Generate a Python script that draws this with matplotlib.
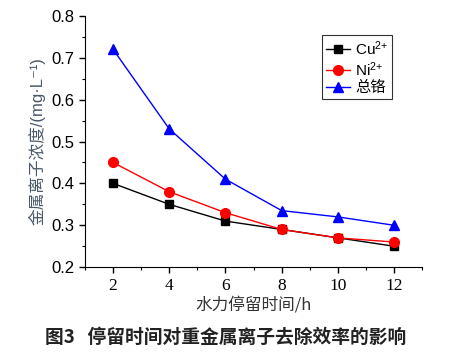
import matplotlib.pyplot as plt
from matplotlib.ticker import MultipleLocator

hrt = [2, 4, 6, 8, 10, 12]
cu = [0.40, 0.35, 0.31, 0.29, 0.27, 0.25]
ni = [0.45, 0.38, 0.33, 0.29, 0.27, 0.26]
cr_total = [0.72, 0.53, 0.41, 0.335, 0.32, 0.30]

plt.rcParams['font.family'] = ['Liberation Sans', 'Noto Sans CJK SC', 'DejaVu Sans']
plt.rcParams['mathtext.fontset'] = 'custom'
plt.rcParams['mathtext.rm'] = 'Liberation Sans'
plt.rcParams['mathtext.it'] = 'Liberation Sans:italic'
plt.rcParams['mathtext.bf'] = 'Liberation Sans:bold'

fig = plt.figure(figsize=(4.52, 3.52), dpi=100)
ax = fig.add_axes([0.188, 0.241, 0.746, 0.714])

ax.plot(hrt, cu, color='black', marker='s', markersize=6, lw=1, label=r'Cu$^{2{+}}$')
ax.plot(hrt, ni, color='red', marker='o', markersize=7, lw=1, label=r'Ni$^{2{+}}$')
ax.plot(hrt, cr_total, color='blue', marker='^', markersize=7, lw=1, label='总铬')

ax.set_xlim(1, 13)
ax.set_ylim(0.2, 0.8)
ax.xaxis.set_major_locator(MultipleLocator(2))
ax.xaxis.set_minor_locator(MultipleLocator(1))
ax.yaxis.set_major_locator(MultipleLocator(0.1))
ax.yaxis.set_minor_locator(MultipleLocator(0.05))
ax.spines['top'].set_visible(False)
ax.spines['right'].set_visible(False)
ax.tick_params(which='major', length=4, width=1, labelsize=12)
ax.tick_params(which='minor', length=2.5, width=0.8)
ax.set_yticklabels([f'{v:.1f}' for v in ax.get_yticks()])
for lbl in ax.get_xticklabels():
    lbl.set_family(['Liberation Serif'])
    lbl.set_fontsize(12.5)

ax.set_ylabel('金属离子浓度/(mg·L⁻¹)', fontsize=12, color='#4a5868',
              family=['Liberation Sans', 'Noto Sans CJK SC', 'DejaVu Sans'])
ax.set_xlabel('水力停留时间/h', fontsize=12, color='#333333',
              family=['Noto Sans CJK SC', 'DejaVu Sans'], labelpad=2)

leg = ax.legend(loc='upper left', bbox_to_anchor=(0.703, 0.923),
                frameon=True, fancybox=False, edgecolor='black',
                handlelength=1.6, handletextpad=0.3, borderpad=0.25,
                labelspacing=0.15, borderaxespad=0,
                prop={'family': ['Liberation Sans', 'Noto Sans CJK SC'], 'size': 11})
leg.get_frame().set_linewidth(0.8)

fig.text(0.50, 0.042, '图3   停留时间对重金属离子去除效率的影响', ha='center', va='center',
         fontsize=13.5, fontweight='bold', color='#222222',
         family=['Noto Sans CJK SC', 'DejaVu Sans'])

fig.savefig('out.png', dpi=100)
